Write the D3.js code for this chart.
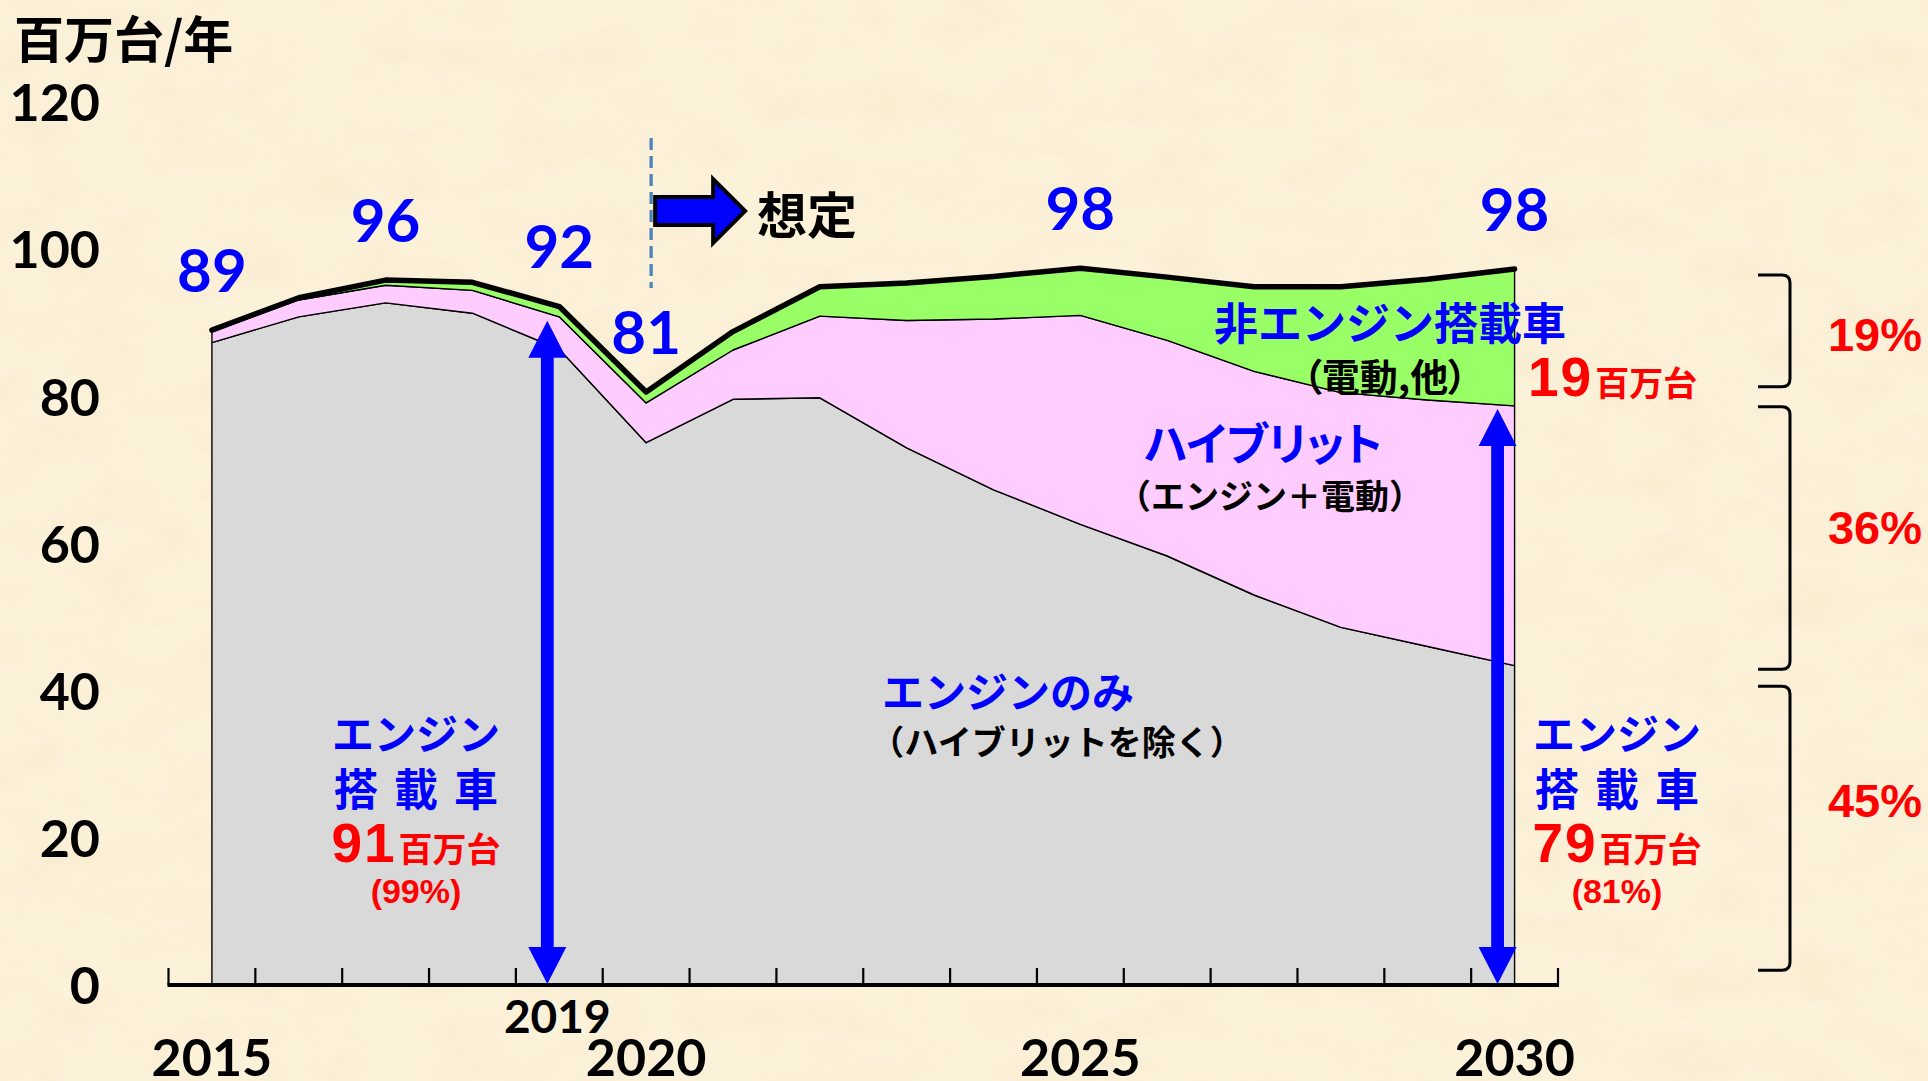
<!DOCTYPE html>
<html><head><meta charset="utf-8">
<script src="https://cdn.jsdelivr.net/npm/d3@7"></script>
<style>
html,body{margin:0;padding:0;background:#FAEFD4;overflow:hidden;}
svg{display:block;}
</style></head>
<body><svg id="chart" width="1928" height="1081"></svg>
<script>
// ---------- data ----------
const years = ["2015","2016","2017","2018","2019","2020","2021","2022","2023","2024","2025","2026","2027","2028","2029","2030"];
const engineOnly = [87.3, 90.8, 92.7, 91.3, 86.4, 73.7, 79.6, 79.8, 73.0, 67.3, 62.6, 58.3, 53.0, 48.6, 46.0, 43.4];
const hybrid     = [1.5, 2.3, 2.4, 3.1, 4.4, 5.4, 6.7, 11.1, 17.3, 23.2, 28.4, 29.3, 30.4, 31.9, 33.5, 35.3];
const nonEngine  = [0.2, 0.3, 0.7, 1.1, 1.4, 1.5, 2.5, 4.0, 5.1, 5.8, 6.4, 8.6, 11.5, 14.4, 16.4, 18.6];
const totalLabelYears = ["2015","2017","2019","2020","2025","2030"];
const totalLabelTexts = ["89","96","92","81","98","98"];
const yTicks = [0, 20, 40, 60, 80, 100, 120];
const yearLabelsMain = ["2015","2020","2025","2030"];
const yearLabelsSub = ["2019"];
const shareLabels2030 = ["19%","36%","45%"];
const shareLabelValues = [88.5, 62.2, 25.1];
const bracketRanges = [[96.5, 81.3],[78.6, 42.9],[40.6, 2.0]];

// ---------- setup ----------
const svg = d3.select("#chart");
const CJK = "'Noto Sans CJK JP', 'Noto Sans CJK SC', sans-serif";
const NUM = "Lato, 'Liberation Sans', sans-serif";
const ARIAL = "'Liberation Sans', Arial, sans-serif";
const BLUE = "#0000FF", RED = "#FF0000";

const defs = svg.append("defs");
const f = defs.append("filter").attr("id","paper").attr("x",0).attr("y",0).attr("width","100%").attr("height","100%");
f.append("feTurbulence").attr("type","fractalNoise").attr("baseFrequency","0.014 0.024").attr("numOctaves",4).attr("seed",7).attr("result","n");
f.append("feColorMatrix").attr("in","n").attr("type","matrix")
  .attr("values","0 0 0 0 0.92  0 0 0 0 0.82  0 0 0 0 0.60  0 0 0 1.6 -0.58");
svg.append("rect").attr("width",1928).attr("height",1081).attr("fill","#FCF2DA");
svg.append("rect").attr("width",1928).attr("height",1081).attr("filter","url(#paper)").attr("opacity",0.7);

const x = d3.scaleBand().domain(years).range([168.5, 1558]).paddingInner(0).paddingOuter(0);
const xc = d => x(d) + x.bandwidth() / 2;
const y = d3.scaleLinear().domain([0, 120]).range([985, 102]);

const rows = years.map((yr, i) => ({year: yr, engineOnly: engineOnly[i], hybrid: hybrid[i], nonEngine: nonEngine[i]}));
const keys = ["engineOnly","hybrid","nonEngine"];
const fills = {engineOnly:"#D9D9D9", hybrid:"#FFCCFF", nonEngine:"#99FF66"};
const series = d3.stack().keys(keys)(rows);
const area = d3.area().x(d => xc(d.data.year)).y0(d => y(d[0])).y1(d => y(d[1]));

svg.append("g").selectAll("path").data(series).join("path")
  .attr("d", area)
  .attr("fill", s => fills[s.key])
  .attr("stroke", "#000").attr("stroke-width", 1.4).attr("stroke-linejoin","round");

const topLine = d3.line().x(d => xc(d.data.year)).y(d => y(d[1]));
svg.append("path").datum(series[2]).attr("d", topLine)
  .attr("fill","none").attr("stroke","#000").attr("stroke-width",5.5)
  .attr("stroke-linecap","round").attr("stroke-linejoin","round");

// ---------- x axis ----------
const y0 = y(0);
const ax = svg.append("g");
const bounds = years.map(d => x(d)).concat([x.range()[1]]);
ax.selectAll("line.tick").data(bounds).join("line").attr("class","tick")
  .attr("x1", d => d).attr("x2", d => d).attr("y1", y0).attr("y2", y0 - 17)
  .attr("stroke","#000").attr("stroke-width",2.2);
ax.append("line").attr("x1", x.range()[0] - 1).attr("x2", x.range()[1] + 1).attr("y1", y0).attr("y2", y0)
  .attr("stroke","#000").attr("stroke-width",4);
ax.selectAll("text.main").data(yearLabelsMain).join("text").attr("class","main")
  .attr("x", d => xc(d)).attr("y", y0 + 72).attr("dy","0.36em")
  .attr("text-anchor","middle").attr("font-family",NUM).attr("font-weight",700).attr("font-size",52)
  .text(d => d);
ax.selectAll("text.sub").data(yearLabelsSub).join("text").attr("class","sub")
  .attr("x", d => xc(d) - 2).attr("y", y0 + 31).attr("dy","0.36em")
  .attr("text-anchor","middle").attr("font-family",NUM).attr("font-weight",700).attr("font-size",46)
  .text(d => d);

// ---------- y axis ----------
const yAxis = svg.append("g").attr("transform","translate(100,0)")
  .call(d3.axisLeft(y).tickValues(yTicks).tickSize(0).tickPadding(0));
yAxis.select(".domain").remove();
yAxis.selectAll("text").attr("font-family",NUM).attr("font-weight",700).attr("font-size",52)
  .attr("fill","#000").attr("dy","0.36em");

// ---------- total labels ----------
const totalsByYear = {};
series[2].forEach(d => totalsByYear[d.data.year] = d[1]);
svg.append("g").selectAll("text").data(totalLabelYears).join("text")
  .attr("x", d => xc(d)).attr("y", d => y(totalsByYear[d]) - 60).attr("dy","0.36em")
  .attr("text-anchor","middle").attr("font-family",NUM).attr("font-weight",700).attr("font-size",60)
  .attr("fill",BLUE).text((d,i) => totalLabelTexts[i]);

// ---------- dashed line & block arrow ----------
const xd = xc("2020") + 5;
svg.append("line").attr("x1",xd).attr("x2",xd).attr("y1",138).attr("y2",288)
  .attr("stroke","#4F81BD").attr("stroke-width",3.3).attr("stroke-dasharray","12 6");
const ax0 = xd + 4;
svg.append("path")
  .attr("d", `M${ax0},197 L${ax0+58},197 L${ax0+58},179 L${ax0+90},211 L${ax0+58},243 L${ax0+58},225 L${ax0},225 Z`)
  .attr("fill",BLUE).attr("stroke","#000").attr("stroke-width",4).attr("stroke-linejoin","miter");

// ---------- helpers ----------
function cjk(str, px, py, size, color, anchor, palt) {
  const t = svg.append("text").attr("x",px).attr("y",py)
    .attr("font-family",CJK).attr("font-weight",700).attr("font-size",size)
    .attr("fill",color).attr("text-anchor",anchor || "middle")
    .attr("dominant-baseline","central").text(str);
  if (palt) t.style("font-feature-settings","'palt' 1");
  return t;
}
function bigNum(num, unit, px, baseline, anchor) {
  const t = svg.append("text").attr("x",px).attr("y",baseline).attr("text-anchor",anchor)
    .attr("fill",RED).attr("font-weight",700);
  t.append("tspan").attr("font-family",ARIAL).attr("font-size",55).attr("letter-spacing",2).text(num);
  t.append("tspan").attr("font-family",CJK).attr("font-size",34).attr("dx",2).text(unit);
  return t;
}
function smallPct(str, px, baseline) {
  svg.append("text").attr("x",px).attr("y",baseline).attr("text-anchor","middle")
    .attr("font-family",ARIAL).attr("font-weight",700).attr("font-size",34).attr("fill",RED).text(str);
}
function doubleArrow(cx, yTop, yBot) {
  const hw = 19, hl = 37, sw = 6.4;
  svg.append("path").attr("d",
    `M${cx},${yTop} L${cx+hw},${yTop+hl} L${cx+sw},${yTop+hl} L${cx+sw},${yBot-hl} L${cx+hw},${yBot-hl} L${cx},${yBot} ` +
    `L${cx-hw},${yBot-hl} L${cx-sw},${yBot-hl} L${cx-sw},${yTop+hl} L${cx-hw},${yTop+hl} Z`)
    .attr("fill",BLUE);
}

// ---------- titles / annotations ----------
cjk("百万台/年", 14, 36, 50, "#000", "start");
cjk("想定", 757, 212, 50, "#000", "start");

cjk("非エンジン搭載車", 1390, 321, 44, BLUE);
cjk("（電動,他）", 1385, 374, 38, "#000", "middle", true);
bigNum("19", "百万台", 1528, 396, "start");

cjk("ハイブリット", 1263, 441, 45, BLUE, "middle", true);
cjk("（エンジン＋電動）", 1270, 494, 34, "#000");

cjk("エンジンのみ", 1008, 689, 42, BLUE);
cjk("（ハイブリットを除く）", 1057, 740, 34, "#000");

// engine-equipped arrows
const engTop = {};
series[1].forEach(d => engTop[d.data.year] = d[1]);
doubleArrow(xc("2019") - 12, y(engTop["2019"]) + 4, y0 - 1);
doubleArrow(xc("2030") - 17, y(engTop["2030"]) + 3, y0 - 1);

[[416, "91", "(99%)"], [1617, "79", "(81%)"]].forEach(([cx, n, p]) => {
  cjk("エンジン", cx, 731, 42, BLUE);
  cjk("搭 載 車", cx, 787, 44, BLUE).attr("word-spacing", 6);
  bigNum(n, "百万台", cx, 862, "middle");
  smallPct(p, cx, 903);
});

// ---------- brackets & shares ----------
const bx1 = 1758, bx2 = 1790, r = 8;
svg.append("g").selectAll("path").data(bracketRanges).join("path")
  .attr("d", d => { const a = y(d[0]), b = y(d[1]);
    return `M${bx1},${a} L${bx2-r},${a} Q${bx2},${a} ${bx2},${a+r} L${bx2},${b-r} Q${bx2},${b} ${bx2-r},${b} L${bx1},${b}`; })
  .attr("fill","none").attr("stroke","#000").attr("stroke-width",3);
svg.append("g").selectAll("text").data(shareLabels2030).join("text")
  .attr("x", 1875).attr("y", (d,i) => y(shareLabelValues[i])).attr("dy","0.358em")
  .attr("text-anchor","middle").attr("font-family",ARIAL).attr("font-weight",700).attr("font-size",47)
  .attr("fill",RED).text(d => d);
</script>
</body></html>
